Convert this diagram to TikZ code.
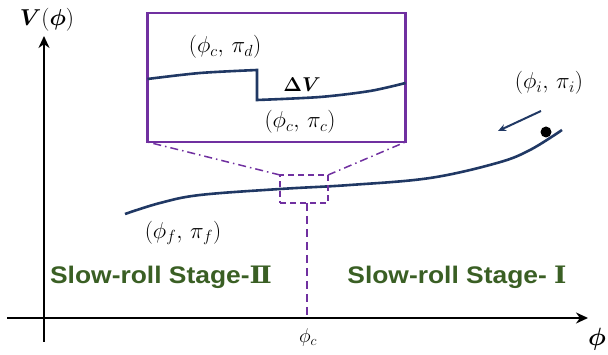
\RequirePackage{fix-cm}
\documentclass[tikz,border=0pt]{standalone}
\usepackage{amsmath,bm}
\usepackage{fontspec}
\newfontfamily\arialbold[FakeStretch=1.1]{Liberation Sans}
\newfontfamily\romanfont[FakeStretch=1.1]{DejaVu Serif}
\usetikzlibrary{arrows.meta}
\definecolor{navy}{HTML}{203864}
\definecolor{purp}{HTML}{7030A0}
\definecolor{dgreen}{HTML}{3A5F24}
\tikzset{
  lbl/.style={inner sep=0pt, font=\fontsize{23}{26}\selectfont},
  stagetxt/.style={inner sep=0pt, text=dgreen, font=\arialbold\bfseries\fontsize{24}{27}\selectfont},
  axis/.style={line width=2.5pt, -{Stealth[length=12pt,width=11pt]}},
  curve/.style={navy, line width=2.6pt},
  purpbox/.style={draw=purp, line width=2.4pt, inner sep=0pt, outer sep=0pt},
  smallbox/.style={draw=purp, dash pattern=on 6pt off 4pt, line width=1.5pt, inner sep=0pt, outer sep=0pt},
  guide/.style={purp, line width=1.5pt, dash pattern=on 8pt off 4pt on 1.5pt off 4pt}
}
\begin{document}
\begin{tikzpicture}[x=1pt,y=-1pt]
\useasboundingbox (0,0) rectangle (608,355);
% axes
\coordinate (xs) at (7,318);
\coordinate (xe) at (588,318);
\coordinate (ys) at (44,342);
\coordinate (ye) at (44,36);
\draw[axis] (xs) -- (xe);
\draw[axis] (ys) -- (ye);
\node[lbl] (vlab) at (47,20) {$\bm{V}(\bm{\phi})$};
\node[lbl, font=\fontsize{25}{28}\selectfont] (plab) at (597,339) {$\bm{\phi}$};
% main curve
\draw[curve] plot[smooth, tension=0.6] coordinates {(125,214) (160,203) (200,195) (280,189) (350,185) (430,178) (497,163) (530,150) (562,130)};
\fill (546,132) circle (5.5pt);
\coordinate (at) at (541,111);
\coordinate (ah) at (498,131);
\draw[navy, line width=2pt, -{Stealth[length=8pt,width=7pt]}] (at) -- (ah);
% small box and inset
\node[smallbox, minimum width=48pt, minimum height=28pt] (small) at (304,189) {};
\node[purpbox, minimum width=258pt, minimum height=129pt] (inset) at (276.5,77.5) {};
\draw[guide] (small.north west) -- (inset.south west);
\draw[guide] (small.north east) -- (inset.south east);
\coordinate (pc) at (307,318);
\draw[purp, line width=1.5pt, dash pattern=on 8pt off 5pt] (307,203) -- (pc);
% inset curve
\draw[curve] plot[smooth] coordinates {(inset.west |- 0,79) (200,73) (257,70)} -- (257,100) -- plot[smooth] coordinates {(257,100) (320,97) (370,91) (inset.east |- 0,83)};
% labels
\node[lbl] (pd) at (225,47) {$(\phi_c,\,\pi_d)$};
\node[lbl, font=\fontsize{20}{22}\selectfont] (dv) at (302,85) {$\bm{\Delta V}$};
\node[lbl] (pcl) at (300,122) {$(\phi_c,\,\pi_c)$};
\node[lbl] (pi) at (549,83) {$(\phi_i,\,\pi_i)$};
\node[lbl] (pf) at (183,233) {$(\phi_f,\,\pi_f)$};
\node[lbl, font=\fontsize{20}{22}\selectfont] (phc) at (308,338) {$\phi_c$};
\node[stagetxt] (s2) at (161,277) {Slow-roll Stage-{\romanfont\bfseries Ⅱ}};
\node[stagetxt] (s1) at (457,277) {Slow-roll Stage- {\romanfont\bfseries Ⅰ}};
\end{tikzpicture}
\end{document}
